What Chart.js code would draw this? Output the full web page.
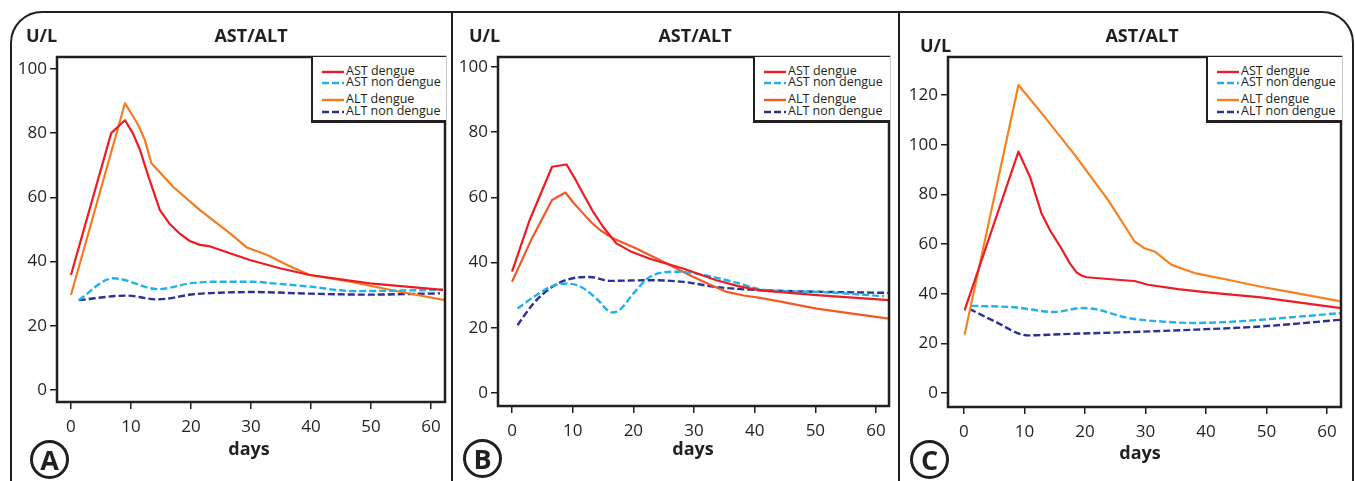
<!DOCTYPE html>
<html>
<head>
<meta charset="utf-8">
<script src="https://cdn.jsdelivr.net/npm/chart.js@4"></script>
<style>
  body { margin: 0; background: #fff; font-family: 'Open Sans', sans-serif; color: #231f20; }
  #page { position: relative; width: 1355px; height: 481px; overflow: hidden; }
  .frame { position: absolute; left: 10px; top: 11px; width: 1340px; height: 520px;
           border: 2px solid #231f20; border-radius: 32px; }
  .divider { position: absolute; top: 12px; width: 2px; height: 470px; background: #231f20; }
  .txt { position: absolute; font-weight: 700; font-size: 18px; line-height: 18px; white-space: nowrap; }
  .center { transform: translateX(-50%); }
  .letter { position: absolute; width: 33px; height: 33px; border: 3.5px solid #231f20; border-radius: 50%;
            font-weight: 700; font-size: 27px; line-height: 33px; text-align: center; }
  canvas { position: absolute; }
  .legend { position: absolute; top: 57px; height: 63px; background: #fff;
            border-left: 2.5px solid #231f20; border-bottom: 3px solid #231f20; }
  .legend .row { position: absolute; left: 9px; height: 13px; font-size: 12.5px; line-height: 13px; white-space: nowrap; }
  .legend svg { vertical-align: middle; margin-right: 2px; }
</style>
</head>
<body>
<div id="page">
  <div class="frame"></div>
  <div class="divider" style="left:451px"></div>
  <div class="divider" style="left:898px"></div>
</div>
<script>
// ---- 數據 (讀自圖片) ----
const xTicks = [0, 10, 20, 30, 40, 50, 60];
const yTicksAB = [0, 20, 40, 60, 80, 100];
const yTicksC = [0, 20, 40, 60, 80, 100, 120];
const seriesNames = ['AST dengue', 'AST non dengue', 'ALT dengue', 'ALT non dengue'];

// Panel A
const astDengueDaysA = [0, 6.7, 9, 10.3, 11.5, 12.9, 14.8, 16.5, 18.2, 19.8, 21.5, 23.2, 26.5, 29.8, 34.8, 39.8, 49.8, 62];
const astDengueA     = [35.8, 80, 84, 80, 74.8, 66.5, 56.1, 51.6, 48.6, 46.4, 45.2, 44.7, 42.6, 40.5, 37.9, 35.8, 33.2, 31.2];
const astNonDaysA = [1.3, 7, 14.6, 19.8, 23.7, 30.4, 33.7, 39.8, 47, 62];
const astNonA     = [28, 34.8, 31.4, 33.2, 33.7, 33.7, 33.2, 32.2, 30.8, 31.2];
const altDengueDaysA = [0, 9, 11.2, 12.3, 13.4, 15, 17, 21.5, 26.5, 29.3, 32.6, 36.3, 39.8, 46.5, 54.8, 62.3];
const altDengueA     = [29.6, 89.3, 82.6, 77.9, 70.6, 67.4, 63.3, 56, 48.8, 44.4, 42.1, 38.7, 35.8, 33.7, 30.6, 28];
const altNonDaysA = [1.3, 9.3, 14.3, 20.4, 24.8, 30.4, 39.8, 49.3, 61.5];
const altNonA     = [28, 29.4, 28.2, 29.8, 30.3, 30.5, 30, 29.7, 30.1];

// Panel B
const astDengueDaysB = [0, 2.9, 6.6, 9, 10.3, 11.7, 13.3, 15, 17.2, 19.7, 22.7, 28.2, 33.7, 37.3, 40.9, 50.2, 62.2];
const astDengueB     = [37.2, 53, 69.4, 70.1, 66, 61.2, 55.8, 51, 45.9, 43.3, 41.2, 38.2, 34.6, 32.8, 31.5, 30, 28.5];
const astNonDaysB = [0.9, 4, 6.8, 9.2, 11.7, 13.9, 16.5, 17.8, 20, 22.7, 27.1, 30.4, 36.5, 42, 50.2, 61.3];
const astNonB     = [25.9, 30, 32.9, 33.6, 32.2, 29, 24.7, 25.6, 30.5, 35.6, 37.2, 36.6, 34.1, 31.5, 31, 29.7];
const altDengueDaysB = [0, 3.3, 6.6, 8.8, 10.2, 11.7, 13.1, 14.5, 16.7, 20.5, 25.5, 29.3, 32.4, 35.4, 38.2, 40.9, 44.7, 50.2, 55.8, 62.2];
const altDengueB     = [34.1, 47.5, 59.2, 61.5, 58.2, 55.1, 52.3, 50, 47.4, 44.3, 39.7, 36.1, 33.4, 31, 29.9, 29.2, 27.9, 25.9, 24.4, 22.8];
const altNonDaysB = [0.9, 3.5, 6.2, 8.4, 10.6, 12.8, 16.1, 22.7, 28.2, 33.7, 39.2, 44.7, 62.2];
const altNonB     = [20.8, 27.4, 32, 34.3, 35.4, 35.6, 34.4, 34.6, 34.1, 32.5, 31.7, 31.3, 30.7];

// Panel C
const astDengueDaysC = [0.1, 9, 10.9, 12.8, 14.2, 16, 17.5, 18.6, 19.4, 20.3, 25.8, 28.2, 30.4, 35.4, 39.8, 49.1, 62.3];
const astDengueC     = [33.3, 97.2, 87.1, 72.4, 65.6, 58.6, 52.2, 48.6, 47.3, 46.6, 45.5, 45.1, 43.6, 41.8, 40.6, 38.5, 34.2];
const astNonDaysC = [1.2, 8.4, 15, 19.4, 21.6, 27.1, 32.6, 38.1, 43.6, 49.1, 62.3];
const astNonC     = [35.1, 34.5, 32.6, 34.2, 33.8, 30.2, 28.8, 28.2, 28.6, 29.5, 32.2];
const altDengueDaysC = [0.1, 9, 13.3, 18.3, 23.8, 28.2, 29.8, 31.5, 34.3, 38.1, 43.6, 49.1, 54.7, 62.3];
const altDengueC     = [23.5, 124, 111.3, 95.9, 77.8, 61, 58.3, 57, 51.6, 48.3, 45.6, 42.8, 40.3, 36.9];
const altNonDaysC = [0.9, 5.1, 10.6, 16.1, 27.1, 38.1, 49.1, 62.3];
const altNonC     = [33.9, 28.8, 23.2, 23.7, 24.5, 25.5, 26.8, 29.5];

// ---- 版面 ----
const INK = '#231f20';
const panels = [
  {
    letter: 'A', area: { left: 57, right: 445, top: 57, bottom: 402 },
    x: [-2.33, 62.33], y: [-3.74, 103.7], yTicks: yTicksAB,
    ul: [26, 26], title: 251, days: [249, 439], circle: [50, 460], legendLeft: 311,
    colors: ['#ed1c24', '#1fb3e8', '#f47a20', '#2e3192'],
    series: [[astDengueDaysA, astDengueA], [astNonDaysA, astNonA], [altDengueDaysA, altDengueA], [altNonDaysA, altNonA]]
  },
  {
    letter: 'B', area: { left: 498, right: 889, top: 57, bottom: 406 },
    x: [-2.31, 62.14], y: [-3.99, 103.07], yTicks: yTicksAB,
    ul: [469, 26], title: 695, days: [693, 439], circle: [483, 459], legendLeft: 753,
    colors: ['#ed1c24', '#1fb3e8', '#f15a24', '#2e3192'],
    series: [[astDengueDaysB, astDengueB], [astNonDaysB, astNonB], [altDengueDaysB, altDengueB], [altNonDaysB, altNonB]]
  },
  {
    letter: 'C', area: { left: 948, right: 1341, top: 57, bottom: 407 },
    x: [-2.64, 62.3], y: [-5.64, 135.3], yTicks: yTicksC,
    ul: [920, 36], title: 1142, days: [1140, 443], circle: [930, 460], legendLeft: 1206,
    colors: ['#ed1c24', '#1fb3e8', '#f7801f', '#2e3192'],
    series: [[astDengueDaysC, astDengueC], [astNonDaysC, astNonC], [altDengueDaysC, altDengueC], [altNonDaysC, altNonC]]
  }
];

const page = document.getElementById('page');
const dashed = [false, true, false, true];
const legendRowTops = [7, 18, 35, 47];

// 繪圖區外框
const boxPlugin = {
  id: 'box',
  afterDatasetsDraw(chart) {
    const a = chart.chartArea, c = chart.ctx;
    c.save();
    c.strokeStyle = INK;
    c.lineWidth = 2.5;
    c.strokeRect(a.left, a.top, a.right - a.left, a.bottom - a.top);
    c.restore();
  }
};

function addText(html, cls, left, top) {
  const d = document.createElement('div');
  d.className = cls;
  d.style.left = left + 'px';
  d.style.top = top + 'px';
  d.innerHTML = html;
  page.appendChild(d);
  return d;
}

panels.forEach(p => {
  const Y_W = 45, PAD_R = 5, TOP = 13, H = 468;
  const canvas = document.createElement('canvas');
  const cl = p.area.left - Y_W;
  const cw = p.area.right - cl + PAD_R;
  canvas.width = cw; canvas.height = H;
  canvas.style.left = cl + 'px'; canvas.style.top = TOP + 'px';
  canvas.style.width = cw + 'px'; canvas.style.height = H + 'px';
  page.appendChild(canvas);

  // 登革熱曲線有尖峰 -> 折線；非登革熱 -> 平滑
  const datasets = p.series.map((s, i) => ({
    label: seriesNames[i],
    data: s[0].map((d, k) => ({ x: d, y: s[1][k] })),
    borderColor: p.colors[i],
    borderWidth: dashed[i] ? 2.4 : 2.2,
    borderDash: dashed[i] ? [7, 3] : [],
    borderJoinStyle: 'round',
    pointRadius: 0,
    tension: dashed[i] ? 0.4 : 0,
    cubicInterpolationMode: dashed[i] ? 'monotone' : 'default',
    fill: false
  }));

  const tickFont = { family: 'Open Sans', size: 17 };
  new Chart(canvas, {
    type: 'line',
    data: { datasets },
    plugins: [boxPlugin],
    options: {
      responsive: false,
      animation: false,
      devicePixelRatio: 1,
      layout: { padding: { top: p.area.top - TOP, right: PAD_R, left: 0, bottom: 0 } },
      plugins: { legend: { display: false }, tooltip: { enabled: false } },
      scales: {
        x: {
          type: 'linear', min: p.x[0], max: p.x[1],
          afterBuildTicks: sc => { sc.ticks = xTicks.map(v => ({ value: v })); },
          afterFit: sc => { sc.height = H - (p.area.bottom - TOP); },
          border: { display: false },
          grid: { drawOnChartArea: false, drawTicks: true, tickLength: 7, color: INK, lineWidth: 1.5 },
          ticks: { font: tickFont, color: INK, padding: 8, maxRotation: 0, autoSkip: false }
        },
        y: {
          type: 'linear', min: p.y[0], max: p.y[1],
          afterBuildTicks: sc => { sc.ticks = p.yTicks.map(v => ({ value: v })); },
          afterFit: sc => { sc.width = Y_W; },
          border: { display: false },
          grid: { drawOnChartArea: false, drawTicks: true, tickLength: 7, color: INK, lineWidth: 1.5 },
          ticks: { font: tickFont, color: INK, padding: 3, autoSkip: false }
        }
      }
    }
  });

  // 標題與文字
  addText('U/L', 'txt', p.ul[0], p.ul[1]);
  addText('AST/ALT', 'txt center', p.title, 26);
  addText('days', 'txt center', p.days[0], p.days[1]);
  addText(p.letter, 'letter', p.circle[0] - 20, p.circle[1] - 20);

  // 圖例
  const lg = document.createElement('div');
  lg.className = 'legend';
  lg.style.left = p.legendLeft + 'px';
  lg.style.width = (p.area.right - p.legendLeft - 1) + 'px';
  seriesNames.forEach((name, i) => {
    const row = document.createElement('div');
    row.className = 'row';
    row.style.top = legendRowTops[i] + 'px';
    const dash = dashed[i] ? 'stroke-dasharray="7 3"' : '';
    row.innerHTML = '<svg width="22" height="6"><line x1="0" y1="3" x2="22" y2="3" stroke="' +
      p.colors[i] + '" stroke-width="2.4" ' + dash + '/></svg>' + name;
    lg.appendChild(row);
  });
  page.appendChild(lg);
});
</script>
</body>
</html>
